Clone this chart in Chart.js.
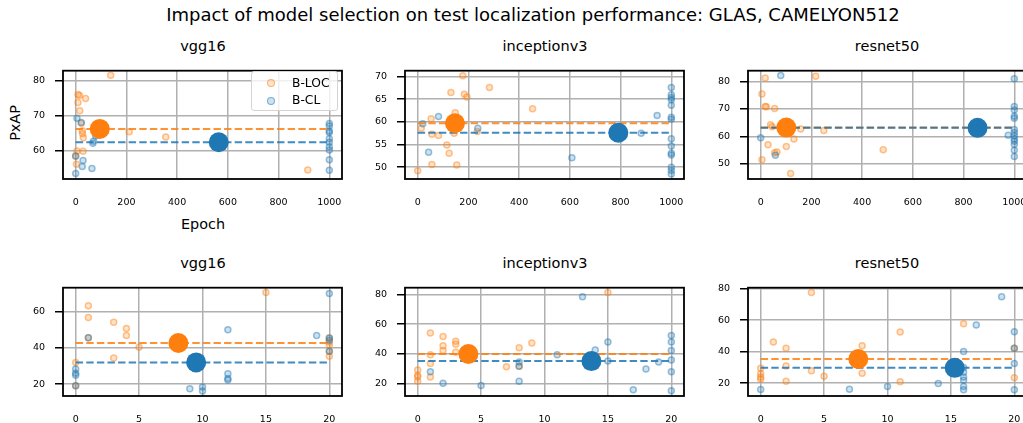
<!DOCTYPE html>
<html lang="en">
<head>
<meta charset="UTF-8">
<title>Impact of model selection on test localization performance</title>
<script src="https://cdn.jsdelivr.net/npm/chart.js"></script>
<style>
    html, body {
        margin: 0;
        padding: 0;
        overflow: hidden;
        background: #fff;
    }
    body {
        position: relative;
        width: 1023px;
        height: 423px;
        font-family: "DejaVu Sans", sans-serif;
        color: #000;
    }
    canvas, .txt, .legend {
        position: absolute;
    }
    .txt {
        white-space: nowrap;
        line-height: 1;
    }
    .center {
        transform: translateX(-50%);
    }
    .title {
        font-size: 14.5px;
    }
    .legend {
        left: 251px;
        top: 71px;
        width: 85px;
        height: 38px;
        border: 1px solid #d4d4d4;
        border-radius: 3px;
        background: rgba(255, 255, 255, 0.8);
        font-size: 12.3px;
    }
    .legend .dot {
        position: absolute;
        width: 6px;
        height: 6px;
        border-radius: 50%;
    }
    .legend .lab {
        position: absolute;
        line-height: 1;
    }
</style>
</head>
<body>

<div class="txt center" style="left:533px; top:6px; font-size:18px;">Impact of model selection on test localization performance: GLAS, CAMELYON512</div>

<div class="txt center title" style="left:203px; top:38.5px;">vgg16</div>
<div class="txt center title" style="left:545px; top:38.5px;">inceptionv3</div>
<div class="txt center title" style="left:887px; top:38.5px;">resnet50</div>
<div class="txt center title" style="left:203px; top:255.5px;">vgg16</div>
<div class="txt center title" style="left:545px; top:255.5px;">inceptionv3</div>
<div class="txt center title" style="left:887px; top:255.5px;">resnet50</div>

<div class="txt" style="left:15.3px; top:122.5px; font-size:14.4px; transform: translate(-50%, -50%) rotate(-90deg);">PxAP</div>
<div class="txt center" style="left:203px; top:216.5px; font-size:14.4px;">Epoch</div>

<canvas id="glasVgg" width="359" height="164" style="left:3px; top:55px;"></canvas>
<canvas id="glasInc" width="359" height="164" style="left:345px; top:55px;"></canvas>
<canvas id="glasRes" width="359" height="164" style="left:688px; top:55px;"></canvas>
<canvas id="camVgg" width="359" height="164" style="left:3px; top:272px;"></canvas>
<canvas id="camInc" width="359" height="164" style="left:345px; top:272px;"></canvas>
<canvas id="camRes" width="359" height="164" style="left:688px; top:272px;"></canvas>

<div class="legend">
    <span class="dot" style="left:14.5px; top:7px; background:rgba(255,127,14,0.22); border:1.4px solid rgba(255,127,14,0.5);"></span>
    <span class="lab" style="left:40px; top:4.5px;">B-LOC</span>
    <span class="dot" style="left:14.5px; top:24.5px; background:rgba(31,119,180,0.22); border:1.4px solid rgba(31,119,180,0.5);"></span>
    <span class="lab" style="left:40px; top:22px;">B-CL</span>
</div>

<script>
    // tick labels
    const glasEpochTicks = [0, 200, 400, 600, 800, 1000];
    const camEpochTicks = [0, 5, 10, 15, 20];
    const glasVggTicks = [60, 70, 80];
    const glasIncTicks = [50, 55, 60, 65, 70];
    const glasResTicks = [50, 60, 70, 80];
    const camVggTicks = [20, 40, 60];
    const camIncTicks = [20, 40, 60, 80];
    const camResTicks = [20, 40, 60, 80];

    // GLAS, vgg16 : [epoch, PxAP]
    const glasVggLoc = [[138, 81.6], [9, 76.1], [15, 75.8], [39, 75.0], [9, 73.8], [16, 71.5], [22, 67.9],
        [26, 65.8], [27, 64.9], [30, 63.8], [211, 65.5], [355, 64.0], [29, 59.9], [5, 60.0], [0, 58.6],
        [3, 56.2], [915, 54.6]];
    const glasVggCl = [[5, 69.3], [22, 68.1], [79, 64.3], [68, 62.2], [70, 62.8], [0, 58.5], [29, 57.3],
        [26, 55.6], [64, 55.0], [0, 53.6], [1000, 67.8], [1000, 67.1], [1000, 65.7], [1000, 65.3],
        [1000, 63.5], [1000, 62.5], [1000, 61.2], [1000, 60.3], [1000, 57.5], [1000, 54.5]];

    // GLAS, inceptionv3
    const glasIncLoc = [[178, 70.2], [283, 67.6], [131, 66.5], [184, 66.1], [194, 65.5], [453, 62.9],
        [148, 62.0], [53, 60.7], [14, 58.6], [144, 57.5], [56, 57.3], [82, 57.0], [235, 57.9], [115, 54.9],
        [124, 53.1], [56, 50.6], [154, 50.5], [0, 49.2]];
    const glasIncCl = [[20, 59.6], [82, 61.2], [237, 58.6], [43, 53.3], [608, 52.1], [881, 57.5], [944, 61.4],
        [1000, 67.6], [1000, 66.0], [1000, 65.4], [1000, 64.9], [1000, 63.7], [1000, 61.0], [1000, 60.6],
        [1000, 56.3], [1000, 54.7], [1000, 53.1], [1000, 52.7], [1000, 50.0], [1000, 49.3], [1000, 48.5]];

    // GLAS, resnet50
    const glasResLoc = [[18, 81.3], [217, 82.0], [5, 75.5], [22, 70.8], [18, 70.9], [55, 70.2], [39, 64.2],
        [45, 63.5], [158, 62.7], [249, 62.1], [131, 59.0], [29, 56.9], [101, 56.3], [64, 54.3], [55, 54.0],
        [483, 55.1], [5, 51.4], [118, 46.4]];
    const glasResCl = [[79, 82.2], [0, 59.5], [58, 53.1], [976, 60.4], [1000, 81.1], [1000, 70.9],
        [1000, 69.6], [1000, 67.3], [1000, 66.6], [1000, 62.5], [1000, 61.4], [1000, 60.2], [1000, 59.0],
        [1000, 58.2], [1000, 57.0], [1000, 54.9], [1000, 52.6]];

    // CAMELYON512, vgg16
    const camVggLoc = [[15, 70.5], [1, 63.2], [1, 56.8], [3, 54.2], [4, 50.7], [4, 46.8], [1, 45.6], [5, 40.4],
        [3, 34.5], [0, 31.9], [0, 19.1], [20, 45.5], [20, 43.3], [20, 41.6], [20, 38.1], [20, 35.4]];
    const camVggCl = [[20, 70.0], [12, 50.0], [19, 46.8], [1, 45.6], [20, 45.5], [20, 44.3], [20, 38.1],
        [0, 28.4], [0, 26.1], [0, 24.9], [0, 19.1], [12, 25.8], [12, 23.2], [12, 22.3], [9, 17.5],
        [10, 18.4], [10, 16.3]];

    // CAMELYON512, inceptionv3
    const camIncLoc = [[15, 81.3], [1, 54.1], [2, 51.7], [2, 45.5], [2, 42.3], [3, 48.5], [3, 46.6], [3, 41.2],
        [1, 39.5], [1, 33.5], [1, 24.5], [0, 29.2], [0, 25.6], [0, 24.5], [0, 21.7], [7, 31.4], [8, 44.2],
        [9, 47.4], [8, 31.8]];
    const camIncCl = [[13, 78.5], [1, 28.1], [2, 20.2], [5, 18.7], [8, 34.6], [8, 31.8], [8, 21.7], [11, 39.5],
        [14, 42.7], [15, 48.1], [15, 35.2], [18, 29.9], [19, 34.6], [17, 15.9], [20, 52.4], [20, 48.1],
        [20, 42.3], [20, 35.9], [20, 28.1], [20, 15.3]];

    // CAMELYON512, resnet50
    const camResLoc = [[4, 77.6], [1, 46.1], [2, 42.1], [2, 30.9], [2, 21.2], [0, 29.5], [0, 25.9], [0, 23.8],
        [0, 22.4], [4, 27.9], [5, 24.4], [8, 43.7], [8, 26.3], [11, 52.4], [11, 20.8], [16, 57.7], [20, 23.4],
        [20, 42.1]];
    const camResCl = [[19, 74.9], [17, 56.9], [20, 52.6], [20, 42.1], [20, 32.4], [20, 15.7], [0, 16.0],
        [7, 16.1], [10, 17.8], [14, 19.8], [16, 40.1], [16, 29.9], [16, 26.9], [16, 23.8], [16, 21.8],
        [16, 17.8], [16, 15.7]];

    // selected model (big dot + dashed level), one per panel
    const selLoc = [[95, 66.3], [147, 59.7], [101, 63.2], [8.1, 42.7], [4.0, 40.0], [7.7, 35.3]];
    const selCl = [[564, 62.5], [791, 57.6], [855, 63.1], [9.5, 32.0], [13.7, 35.2], [15.3, 29.7]];

    const ORANGE = '255,127,14';
    const BLUE = '31,119,180';

    const panels = [
        { id: 'glasVgg', loc: glasVggLoc, cl: glasVggCl, xr: [-50, 1050], xt: glasEpochTicks, yr: [52.0, 82.9], yt: glasVggTicks },
        { id: 'glasInc', loc: glasIncLoc, cl: glasIncCl, xr: [-50, 1050], xt: glasEpochTicks, yr: [47.4, 71.3], yt: glasIncTicks },
        { id: 'glasRes', loc: glasResLoc, cl: glasResCl, xr: [-50, 1050], xt: glasEpochTicks, yr: [44.4, 84.0], yt: glasResTicks },
        { id: 'camVgg', loc: camVggLoc, cl: camVggCl, xr: [-1, 21], xt: camEpochTicks, yr: [13.5, 73.2], yt: camVggTicks },
        { id: 'camInc', loc: camIncLoc, cl: camIncCl, xr: [-1, 21], xt: camEpochTicks, yr: [11.7, 84.6], yt: camIncTicks },
        { id: 'camRes', loc: camResLoc, cl: camResCl, xr: [-1, 21], xt: camEpochTicks, yr: [11.8, 80.6], yt: camResTicks }
    ];

    // black box around the plot area (drawn above the data like mpl spines)
    const frame = {
        id: 'frame',
        afterDatasetsDraw(chart) {
            const { ctx, chartArea: a } = chart;
            ctx.save();
            ctx.strokeStyle = '#000';
            ctx.lineWidth = 1.8;
            ctx.strokeRect(a.left, a.top, a.right - a.left, a.bottom - a.top);
            ctx.restore();
        }
    };

    const pts = arr => arr.map(([x, y]) => ({ x: x, y: y }));

    function small(data, rgb, order) {
        return {
            data: pts(data),
            backgroundColor: `rgba(${rgb},0.22)`,
            borderColor: `rgba(${rgb},0.45)`,
            pointRadius: 3,
            pointBorderWidth: 1.5,
            order: order
        };
    }

    function level(sel, end, rgb, order) {
        return {
            data: [{ x: 0, y: sel[1] }, { x: end, y: sel[1] }],
            showLine: true,
            borderColor: `rgba(${rgb},0.85)`,
            borderWidth: 2,
            borderDash: [7.4, 3.2],
            pointRadius: 0,
            order: order
        };
    }

    function big(sel, rgb, order) {
        return {
            data: [{ x: sel[0], y: sel[1] }],
            backgroundColor: `rgb(${rgb})`,
            borderColor: `rgb(${rgb})`,
            pointRadius: 10,
            pointBorderWidth: 0,
            order: order
        };
    }

    const tickFont = { family: 'DejaVu Sans', size: 9.5 };

    panels.forEach((p, i) => {
        const end = p.xt[p.xt.length - 1];
        new Chart(document.getElementById(p.id), {
            type: 'scatter',
            data: {
                datasets: [
                    big(selCl[i], BLUE, 0),
                    big(selLoc[i], ORANGE, 1),
                    level(selCl[i], end, BLUE, 2),
                    level(selLoc[i], end, ORANGE, 3),
                    small(p.cl, BLUE, 4),
                    small(p.loc, ORANGE, 5)
                ]
            },
            options: {
                responsive: false,
                animation: false,
                events: [],
                layout: { padding: { left: 0, top: 10, right: 20, bottom: 0 } },
                plugins: {
                    legend: { display: false },
                    tooltip: { enabled: false }
                },
                scales: {
                    x: {
                        type: 'linear',
                        min: p.xr[0],
                        max: p.xr[1],
                        afterBuildTicks: s => { s.ticks = p.xt.map(v => ({ value: v })); },
                        afterFit: s => { s.height = 40; },
                        border: { display: false },
                        grid: { color: '#b0b0b0', lineWidth: 1.5, tickLength: 8, tickColor: 'rgba(0,0,0,0)' },
                        ticks: { color: '#000', font: tickFont, padding: 10, autoSkip: false,
                                 maxRotation: 0, minRotation: 0, callback: v => String(v) }
                    },
                    y: {
                        type: 'linear',
                        min: p.yr[0],
                        max: p.yr[1],
                        afterBuildTicks: s => { s.ticks = p.yt.map(v => ({ value: v })); },
                        afterFit: s => { s.width = 60; },
                        border: { display: false },
                        grid: { color: '#b0b0b0', lineWidth: 1.5, tickLength: 8, tickColor: '#000', tickWidth: 1.5 },
                        ticks: { color: '#000', font: tickFont, padding: 10, autoSkip: false,
                                 callback: v => String(v) }
                    }
                }
            },
            plugins: [frame]
        });
    });
</script>

</body>
</html>
